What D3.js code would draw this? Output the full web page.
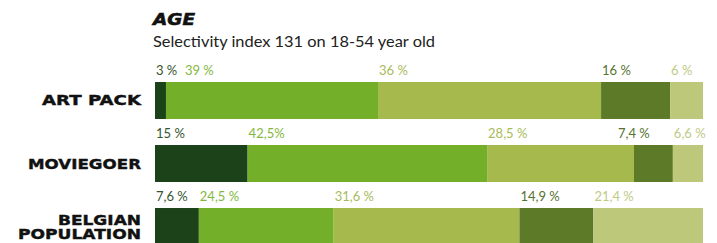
<!DOCTYPE html>
<html><head><meta charset="utf-8">
<script src="https://cdn.jsdelivr.net/npm/d3@7"></script>
<style>body{margin:0;background:#fff}svg{display:block}</style>
</head><body>
<svg id="c" width="717" height="243"></svg>
<script>
const categories = ["ART PACK", "MOVIEGOER", "BELGIAN POPULATION"];
const ageGroups = ["g1", "g2", "g3", "g4", "g5"];
const artPack = [2.0, 38.7, 40.7, 12.6, 6.0];
const moviegoer = [16.9, 43.7, 26.8, 7.1, 5.5];
const belgianPopulation = [8.0, 24.6, 33.9, 13.5, 20.0];
const artPackLabels = ["3 %", "39 %", "36 %", "16 %", "6 %"];
const moviegoerLabels = ["15 %", "42,5%", "28,5 %", "7,4 %", "6,6 %"];
const belgianLabels = ["7,6 %", "24,5 %", "31,6 %", "14,9 %", "21,4 %"];
const title = "AGE";
const subtitle = "Selectivity index 131 on 18-54 year old";

const series = [artPack, moviegoer, belgianPopulation];
const labels = [artPackLabels, moviegoerLabels, belgianLabels];

const segColors = ["#1c4219", "#74af2a", "#a5b94d", "#5c7a27", "#bdc87b"];
const txtColors = ["#34542f", "#83b840", "#a8bb5a", "#56722f", "#c0ca86"];
// label nudges (layout only)
const nudge = {"0-1": 18, "1-3": -17};

const svg = d3.select("#c");
const x = d3.scaleLinear().domain([0, 100]).range([155, 703]);
const y = d3.scaleBand().domain(categories).range([82, 245]).paddingInner(0.413).paddingOuter(0);

svg.append("text").attr("x", 153).attr("y", 25)
  .attr("font-family", "DejaVu Sans").attr("font-weight", "bold").attr("font-style", "oblique")
  .attr("font-size", 16.5).attr("textLength", 42).attr("lengthAdjust", "spacingAndGlyphs")
  .attr("stroke", "#111").attr("stroke-width", 0.6)
  .attr("fill", "#111").text(title);
svg.append("text").attr("x", 153).attr("y", 47)
  .attr("font-family", "Lato").attr("font-size", 15.5).attr("fill", "#222")
  .attr("textLength", 282).attr("lengthAdjust", "spacingAndGlyphs").text(subtitle);

categories.forEach((cat, i) => {
  const vals = series[i];
  const stack = d3.cumsum(vals);
  const starts = vals.map((v, j) => stack[j] - v);
  const g = svg.append("g");
  g.selectAll("rect").data(vals).join("rect")
    .attr("x", (d, j) => x(starts[j]))
    .attr("width", (d, j) => x(stack[j]) - x(starts[j]))
    .attr("y", y(cat)).attr("height", y.bandwidth())
    .attr("fill", (d, j) => segColors[j]);
  g.selectAll("text.v").data(labels[i]).join("text").attr("class", "v")
    .attr("x", (d, j) => x(starts[j]) + 1 + (nudge[i + "-" + j] || 0))
    .attr("y", y(cat) - 7)
    .attr("font-family", "Lato").attr("font-size", 13)
    .attr("fill", (d, j) => txtColors[j]).text(d => d);
});

const rowLab = [["ART PACK"], ["MOVIEGOER"], ["BELGIAN", "POPULATION"]];
const widths = {"ART PACK": 99, "MOVIEGOER": 113, "BELGIAN": 83, "POPULATION": 123};
categories.forEach((cat, i) => {
  const lines = rowLab[i];
  const yc = y(cat) + y.bandwidth() / 2;
  lines.forEach((l, k) => {
    const base = lines.length === 1 ? yc + 5 : yc - 2 + k * 14.5;
    svg.append("text").attr("x", 141).attr("y", base).attr("text-anchor", "end")
      .attr("font-family", "DejaVu Sans").attr("font-weight", "bold").attr("font-size", 14)
      .attr("textLength", widths[l]).attr("lengthAdjust", "spacingAndGlyphs")
      .attr("stroke", "#111").attr("stroke-width", 0.4)
      .attr("fill", "#111").text(l);
  });
});
</script>
</body></html>
